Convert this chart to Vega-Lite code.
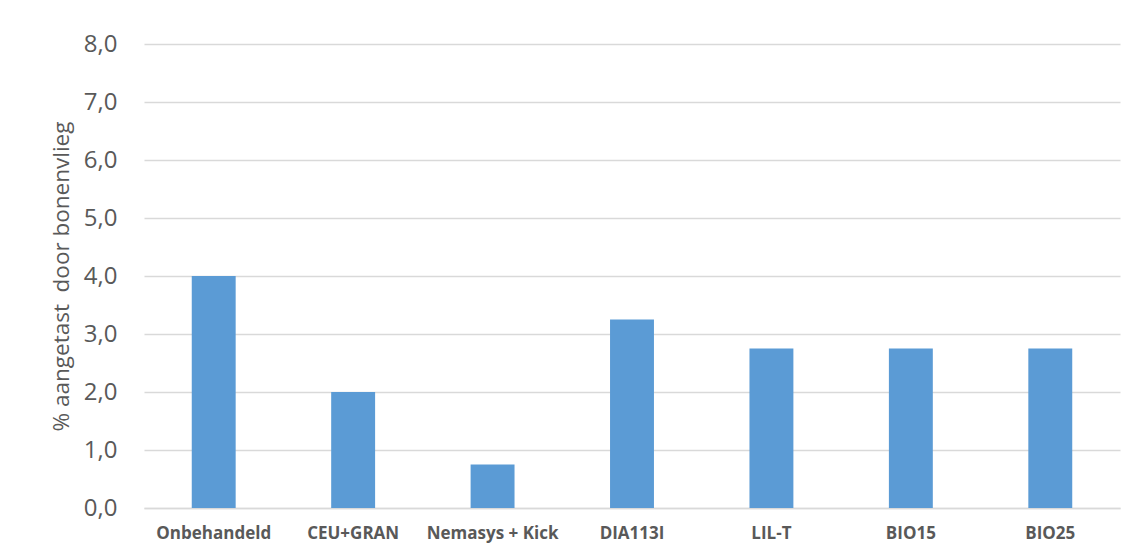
{
  "$schema": "https://vega.github.io/schema/vega-lite/v6.json",
  "autosize": "none",
  "width": 976,
  "height": 464,
  "padding": {"left": 144, "top": 44, "right": 13, "bottom": 49},
  "background": "white",
  "config": {
    "locale": {"number": {"decimal": ",", "thousands": ".", "grouping": [3], "currency": ["€", ""]}},
    "view": {"stroke": null},
    "font": "Open Sans"
  },
  "data": {
    "values": [
      {"behandeling": "Onbehandeld", "pct": 4.0},
      {"behandeling": "CEU+GRAN", "pct": 2.0},
      {"behandeling": "Nemasys + Kick", "pct": 0.75},
      {"behandeling": "DIA113I", "pct": 3.25},
      {"behandeling": "LIL-T", "pct": 2.75},
      {"behandeling": "BIO15", "pct": 2.75},
      {"behandeling": "BIO25", "pct": 2.75}
    ]
  },
  "mark": {"type": "bar", "color": "#5B9BD5"},
  "encoding": {
    "x": {
      "field": "behandeling",
      "type": "nominal",
      "sort": null,
      "scale": {"paddingInner": 0.685, "paddingOuter": 0.3425},
      "axis": {
        "title": null,
        "labelAngle": 0,
        "labelFont": "Open Sans",
        "labelFontWeight": "bold",
        "labelFontSize": 17,
        "labelColor": "#595959",
        "labelPadding": 17,
        "ticks": false,
        "domainColor": "#D9D9D9",
        "domainWidth": 1.5
      }
    },
    "y": {
      "field": "pct",
      "type": "quantitative",
      "scale": {"domain": [0, 8]},
      "axis": {
        "title": "% aangetast \u00a0door bonenvlieg",
        "titleFont": "Open Sans",
        "titleFontSize": 22.5,
        "titleFontWeight": "normal",
        "titleColor": "#595959",
        "titlePadding": 10,
        "values": [0, 1, 2, 3, 4, 5, 6, 7, 8],
        "format": ".1f",
        "labelFont": "Open Sans",
        "labelFontSize": 24,
        "labelColor": "#595959",
        "labelPadding": 27,
        "ticks": false,
        "domain": false,
        "grid": true,
        "gridColor": "#D9D9D9",
        "gridWidth": 1.5
      }
    }
  }
}
